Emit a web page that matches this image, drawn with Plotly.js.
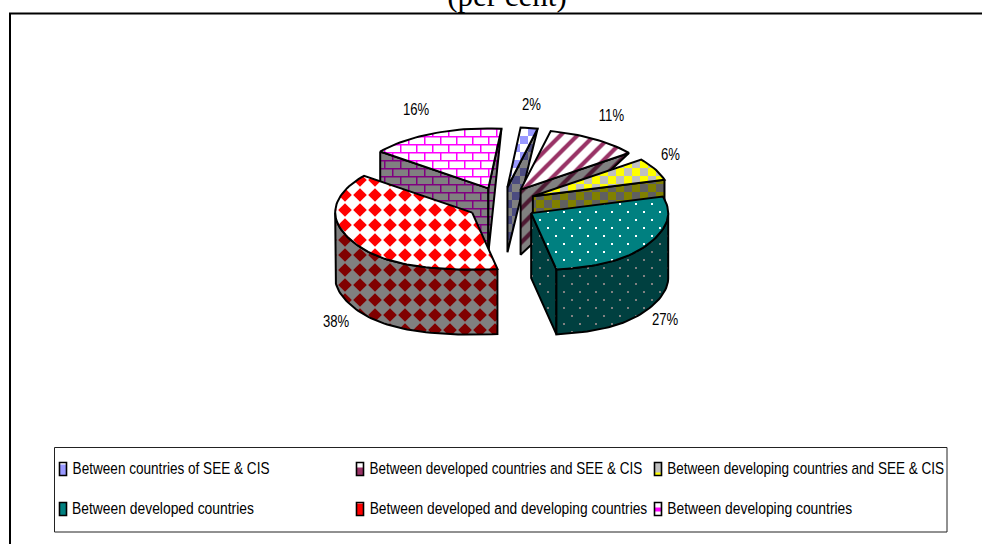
<!DOCTYPE html>
<html>
<head>
<meta charset="utf-8">
<script src="https://cdn.plot.ly/plotly-3.0.1.min.js"></script>
<style>html,body{margin:0;padding:0;background:#fff;overflow:hidden}#chart{width:982px;height:544px}</style>
</head>
<body>
<div id="chart"></div>
<script>
// Shares of the exploded pie, in per cent, clockwise from the top.
const categories = [
  'Between countries of SEE & CIS',
  'Between developed countries and SEE & CIS',
  'Between developing countries and SEE & CIS',
  'Between developed countries',
  'Between developed and developing countries',
  'Between developing countries'
];
const shares = [2, 11, 6, 27, 38, 16];
const chartTitle = '(per cent)';

// Fill styles per slice: top face colours, then the darker wall colours.
const patternKinds = ['check', 'diag', 'check', 'dots', 'diamond', 'brick'];
const topFg = ['#9999FF', '#993366', '#FFFF00', '#FFFFFF', '#FF0000', '#FF00FF'];
const topBg = ['#FFFFFF', '#FFFFFF', '#C0C0C0', '#008080', '#FFFFFF', '#FFFFFF'];
const wallFg = ['#4C4C80', '#4D1A33', '#808000', '#808080', '#800000', '#800080'];
const wallBg = ['#808080', '#808080', '#606060', '#004040', '#808080', '#808080'];

// Projection of the tilted pie onto the 982x544 pixel plane. The near rim
// is a little flatter and wider than the far rim, as in a perspective view.
const CX = 502, CY = 204, RX = 137, RY_BACK = 60, RY_FRONT = 57, DEPTH = 65;
const EX = 34.6, EY = 17, START_DEG = 5.5, NEAR_WIDEN = 0.2;
const rad = d => d * Math.PI / 180;
function project(deg, cx, cy) {
  const s = Math.sin(rad(deg)), c = Math.cos(rad(deg));
  const near = Math.max(0, -c);
  return [cx + RX * s * (1 + NEAR_WIDEN * Math.pow(near, 4)), cy - (c < 0 ? RY_FRONT : RY_BACK) * c];
}

function arc(a, b, cx, cy, dz = 0) {
  const n = Math.max(2, Math.ceil(Math.abs(b - a) / 2));
  const pts = [];
  for (let i = 0; i <= n; i++) {
    const p = project(a + (b - a) * i / n, cx, cy);
    pts.push([p[0], p[1] + dz]);
  }
  return pts;
}

const total = shares.reduce((s, v) => s + v, 0);
let running = 0;
const slices = shares.map((v, i) => {
  const a = START_DEG + running / total * 360;
  running += v;
  const b = START_DEG + running / total * 360;
  const mid = (a + b) / 2;
  const tx = CX + EX * Math.sin(rad(mid));
  const ty = CY - EY * Math.cos(rad(mid));
  return { i, a, b, mid, tx, ty };
});

const traces = [];
const customFills = {};
function addFace(pts, slice, isWall) {
  const kind = patternKinds[slice.i];
  const fg = isWall ? wallFg[slice.i] : topFg[slice.i];
  const bg = isWall ? wallBg[slice.i] : topBg[slice.i];
  const libShape = kind === 'diag' ? '/' : '+';
  customFills[traces.length] = { kind, fg, bg };
  traces.push({
    type: 'scatter', mode: 'lines', hoverinfo: 'skip', showlegend: false,
    name: categories[slice.i],
    x: pts.map(p => p[0]).concat(pts[0][0]),
    y: pts.map(p => p[1]).concat(pts[0][1]),
    fill: 'toself', fillcolor: bg,
    fillpattern: { shape: libShape, fgcolor: fg, bgcolor: bg, size: kind === 'diag' ? 12 : 16, solidity: 0.35 },
    line: { color: '#000', width: 2 }
  });
}

// Faces along the back: the far end of each wall tapers to the lower tip.
function backWedge(s, deg) {
  const o = project(deg, s.tx, s.ty);
  addFace([o, [s.tx, s.ty], [s.tx, s.ty + DEPTH]], s, true);
}
function radialWall(s, deg) {
  const o = project(deg, s.tx, s.ty);
  addFace([o, [s.tx, s.ty], [s.tx, s.ty + DEPTH], [o[0], o[1] + DEPTH]], s, true);
}
function outerWall(s) {
  const a = Math.max(s.a, 90), b = Math.min(s.b, 270);
  addFace(arc(a, b, s.tx, s.ty).concat(arc(b, a, s.tx, s.ty, DEPTH)), s, true);
}
function topFace(s) {
  addFace([[s.tx, s.ty]].concat(arc(s.a, s.b, s.tx, s.ty)), s, false);
}

const [sA, sB, sC, sD, sE, sF] = slices;
backWedge(sA, sA.b); topFace(sA);
backWedge(sB, sB.b); topFace(sB);
radialWall(sC, sC.b); topFace(sC);
radialWall(sF, sF.a); backWedge(sF, sF.b); topFace(sF);
outerWall(sE); topFace(sE);
radialWall(sD, sD.b); outerWall(sD); topFace(sD);

// Percentage labels sit just beyond the outer rim of each slice.
const labelFont = { family: 'Liberation Sans, Arial, sans-serif', size: 16, color: '#000' };
const labelOffsets = [[2, -23], [17, -24], [15, -15], [16, 76], [-17, 80], [-18, -24]];
const annotations = slices.map((s, k) => {
  const rim = project(s.mid, s.tx, s.ty);
  return {
    x: rim[0] + labelOffsets[k][0], y: rim[1] + labelOffsets[k][1],
    xref: 'x', yref: 'y', showarrow: false, text: shares[k] + '%', font: labelFont
  };
});
const LABEL_SQUEEZE = 0.82;

// Legend: three columns, two rows, with a small swatch before each entry.
const legendCols = [59, 356, 654];
const legendRows = [469, 509];
const legendTextWidths = [197, 273, 277, 182, 278, 185];
const swatchShapes = [];
categories.forEach((c, k) => {
  const lx = legendCols[k % 3], ly = legendRows[Math.floor(k / 3)];
  annotations.push({
    x: lx + 13 + legendTextWidths[k] / 2, y: ly - 1, xref: 'x', yref: 'y', xanchor: 'center',
    showarrow: false, text: c, font: labelFont
  });
  const x0 = lx + 0.5, x1 = lx + 7.5, y0 = ly - 6.5, y1 = ly + 6.5;
  swatchShapes.push({ type: 'rect', xref: 'x', yref: 'y', x0, x1, y0, y1,
    fillcolor: topBg[k], line: { width: 0 } });
  const inner = { 0: [y0 + 2, y1], 1: [y0 + 5, y1], 2: [y1 - 3, y1], 3: [y0, y1], 4: [y0 + 1, y1], 5: [y0 + 5, y1 - 4] }[k];
  swatchShapes.push({ type: 'rect', xref: 'x', yref: 'y', x0, x1, y0: inner[0], y1: inner[1],
    fillcolor: topFg[k] === '#FFFFFF' ? topBg[k] : topFg[k], line: { width: 0 } });
  swatchShapes.push({ type: 'rect', xref: 'x', yref: 'y', x0, x1, y0, y1,
    fillcolor: 'rgba(0,0,0,0)', line: { color: '#000', width: 1.6 } });
});

const frameShapes = [
  { type: 'line', xref: 'x', yref: 'y', x0: 10, x1: 10, y0: 13.5, y1: 544, line: { color: '#000', width: 2 } },
  { type: 'line', xref: 'x', yref: 'y', x0: 9, x1: 982, y0: 13.5, y1: 13.5, line: { color: '#000', width: 2 } },
  { type: 'rect', xref: 'x', yref: 'y', x0: 54.5, x1: 947, y0: 447.5, y1: 532, fillcolor: 'rgba(0,0,0,0)', line: { color: '#222', width: 1 } }
];

const layout = {
  width: 982, height: 544,
  margin: { l: 0, r: 0, t: 0, b: 0 },
  paper_bgcolor: '#fff', plot_bgcolor: '#fff',
  showlegend: false,
  title: {
    text: chartTitle, xref: 'paper', yref: 'paper', x: 507 / 982, xanchor: 'center',
    y: 1 - 6 / 544, yanchor: 'bottom',
    font: { family: 'Liberation Serif, Times New Roman, serif', size: 31, color: '#000' }
  },
  xaxis: { range: [0, 982], visible: false, fixedrange: true },
  yaxis: { range: [544, 0], visible: false, fixedrange: true },
  annotations,
  shapes: frameShapes.concat(swatchShapes)
};

// Tiles for the fill styles Plotly has no preset for.
function tileSize(f) { return f.kind === 'diamond' ? 15 : 16; }
function tileMarkup(f) {
  const n = tileSize(f);
  const bgRect = `<rect width="${n}" height="${n}" fill="${f.bg}"/>`;
  const rect = (x, y, w, h) => `<rect x="${x}" y="${y}" width="${w}" height="${h}" fill="${f.fg}"/>`;
  if (f.kind === 'check') return bgRect + rect(0, 0, 8, 8) + rect(8, 8, 8, 8);
  if (f.kind === 'dots') return bgRect + rect(3, 3, 2, 2) + rect(11, 11, 2, 2);
  if (f.kind === 'brick') {
    return bgRect + rect(0, 0, 16, 1.5) + rect(0, 8, 16, 1.5) + rect(0, 0, 1.5, 8) + rect(8, 8, 1.5, 8);
  }
  if (f.kind === 'diamond') {
    const d = (cx, cy, r) => `<polygon points="${cx - r},${cy} ${cx},${cy - r} ${cx + r},${cy} ${cx},${cy + r}" fill="${f.fg}"/>`;
    return bgRect + d(0, 0, 6.8) + d(n, 0, 6.8) + d(0, n, 6.8) + d(n, n, 6.8);
  }
  return null;
}

Plotly.newPlot('chart', traces, layout, { staticPlot: true, displayModeBar: false }).then(gd => {
  gd.querySelectorAll('.scatterlayer .trace').forEach(el => {
    const f = customFills[el.__data__[0].trace.index];
    const markup = f && tileMarkup(f);
    if (!markup) return;
    const fillPath = el.querySelector('.js-fill');
    const m = fillPath && /#([^"')]+)/.exec(fillPath.style.fill);
    const pat = m && document.getElementById(m[1]);
    if (!pat) return;
    pat.setAttribute('width', tileSize(f));
    pat.setAttribute('height', tileSize(f));
    pat.innerHTML = markup;
  });
  // The chart's sans labels are set in a condensed cut of the face.
  gd.querySelectorAll('.annotation-text').forEach((t, k) => {
    const b = t.getBBox();
    const cx = b.x + b.width / 2;
    const scale = k < shares.length ? LABEL_SQUEEZE : legendTextWidths[k - shares.length] / b.width;
    t.setAttribute('transform', `translate(${cx} 0) scale(${scale} 1) translate(${-cx} 0)`);
  });
});
</script>
</body>
</html>
